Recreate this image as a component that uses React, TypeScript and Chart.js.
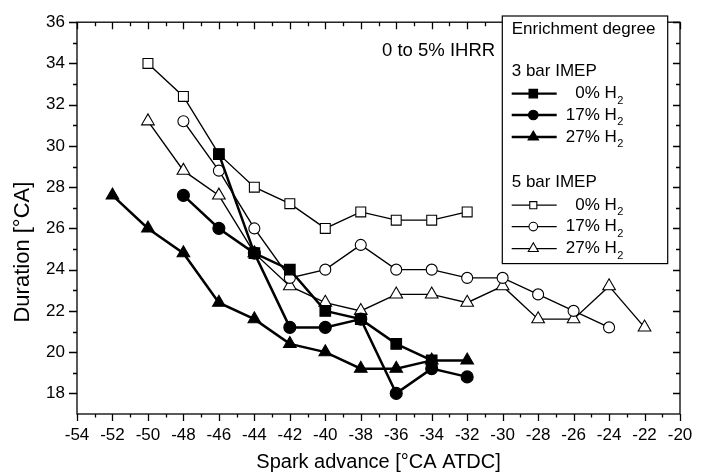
import React, { useEffect, useRef } from "react";
import { Chart, registerables } from "chart.js";

Chart.register(...registerables);

// ---- data ----
const xTicks = [-54, -52, -50, -48, -46, -44, -42, -40, -38, -36, -34, -32, -30, -28, -26, -24, -22, -20];
const yTicks = [18, 20, 22, 24, 26, 28, 30, 32, 34, 36];

const x3bar0 = [-46, -44, -42, -40, -38, -36, -34];
const y3bar0 = [29.6, 24.8, 24.0, 22.0, 21.6, 20.4, 19.6];
const x3bar17 = [-48, -46, -44, -42, -40, -38, -36, -34, -32];
const y3bar17 = [27.6, 26.0, 24.8, 21.2, 21.2, 21.6, 18.0, 19.2, 18.8];
const x3bar27 = [-52, -50, -48, -46, -44, -42, -40, -38, -36, -34, -32];
const y3bar27 = [27.6, 26.0, 24.8, 22.4, 21.6, 20.4, 20.0, 19.2, 19.2, 19.6, 19.6];

const x5bar0 = [-50, -48, -46, -44, -42, -40, -38, -36, -34, -32];
const y5bar0 = [34.0, 32.4, 29.6, 28.0, 27.2, 26.0, 26.8, 26.4, 26.4, 26.8];
const x5bar17 = [-48, -46, -44, -42, -40, -38, -36, -34, -32, -30, -28, -26, -24];
const y5bar17 = [31.2, 28.8, 26.0, 23.6, 24.0, 25.2, 24.0, 24.0, 23.6, 23.6, 22.8, 22.0, 21.2];
const x5bar27 = [-50, -48, -46, -44, -42, -40, -38, -36, -34, -32, -30, -28, -26, -24, -22];
const y5bar27 = [31.2, 28.8, 27.6, 24.8, 23.2, 22.4, 22.0, 22.8, 22.8, 22.4, 23.2, 21.6, 21.6, 23.2, 21.2];

const seriesLabels = ["0% H", "17% H", "27% H"];
const groupLabels = ["3 bar IMEP", "5 bar IMEP"];
const legendTitle = "Enrichment degree";
const annotationText = "0 to 5% IHRR";
const annotationPos = { x: -36.8, y: 34.6 };
const xTitle = "Spark advance [°CA ATDC]";
const yTitle = "Duration [°CA]";

const X_MIN = -54, X_MAX = -20, Y_MIN = 17, Y_MAX = 36;
const FONT = "'Liberation Sans', Arial, Helvetica, sans-serif";

const zip = (xs: number[], ys: number[]) => xs.map((x, i) => ({ x, y: ys[i] }));

type Style = { shape: string; filled: boolean; r: number; lw: number; lr: number };
const styles: Style[] = [
  { shape: "rect", filled: true, r: 7.5, lw: 2.5, lr: 6 },
  { shape: "circle", filled: true, r: 6, lw: 2.5, lr: 4.8 },
  { shape: "triangle", filled: true, r: 7.3, lw: 2.5, lr: 6 },
  { shape: "rect", filled: false, r: 7, lw: 1.4, lr: 5 },
  { shape: "circle", filled: false, r: 5.5, lw: 1.4, lr: 4.3 },
  { shape: "triangle", filled: false, r: 7.3, lw: 1.4, lr: 5.8 },
];

function drawMarker(ctx: CanvasRenderingContext2D, s: Style, x: number, y: number, r: number) {
  ctx.beginPath();
  if (s.shape === "rect") {
    const h = r * Math.SQRT1_2;
    ctx.rect(x - h, y - h, 2 * h, 2 * h);
  } else if (s.shape === "circle") {
    ctx.arc(x, y, r, 0, Math.PI * 2);
  } else {
    let rad = 0;
    ctx.moveTo(x + Math.sin(rad) * r, y - Math.cos(rad) * r);
    rad += (2 * Math.PI) / 3;
    ctx.lineTo(x + Math.sin(rad) * r, y - Math.cos(rad) * r);
    rad += (2 * Math.PI) / 3;
    ctx.lineTo(x + Math.sin(rad) * r, y - Math.cos(rad) * r);
    ctx.closePath();
  }
  ctx.fillStyle = s.filled ? "#000" : "#fff";
  ctx.fill();
  ctx.lineWidth = 1.1;
  ctx.strokeStyle = "#000";
  ctx.stroke();
}

const framePlugin = {
  id: "frameTicks",
  afterDatasetsDraw(chart: any) {
    const { ctx, chartArea: a, scales } = chart;
    const x = scales.x, y = scales.y;
    ctx.save();
    ctx.strokeStyle = "#000";
    ctx.lineWidth = 1.3;
    ctx.strokeRect(a.left, a.top, a.right - a.left, a.bottom - a.top);
    ctx.beginPath();
    for (let v = X_MIN; v <= X_MAX; v += 1) {
      const px = Math.round(x.getPixelForValue(v)) + 0.5;
      const major = v % 2 === 0;
      ctx.moveTo(px, a.bottom);
      ctx.lineTo(px, a.bottom + (major ? 7 : 3.5));
      ctx.moveTo(px, a.top);
      ctx.lineTo(px, a.top + (major ? 7 : 4));
    }
    for (let v = Y_MIN + 1; v <= Y_MAX; v += 1) {
      const py = Math.round(y.getPixelForValue(v)) + 0.5;
      const major = v % 2 === 0;
      ctx.moveTo(a.left, py);
      ctx.lineTo(a.left - (major ? 8 : 4), py);
      ctx.moveTo(a.right, py);
      ctx.lineTo(a.right - (major ? 7 : 4), py);
    }
    ctx.stroke();

    // annotation
    ctx.fillStyle = "#000";
    ctx.font = `18.5px ${FONT}`;
    ctx.textAlign = "left";
    ctx.textBaseline = "middle";
    ctx.fillText(annotationText, x.getPixelForValue(annotationPos.x), y.getPixelForValue(annotationPos.y));

    // y axis title
    ctx.save();
    ctx.translate(a.left - 54, (a.top + a.bottom) / 2 + 34);
    ctx.rotate(-Math.PI / 2);
    ctx.textAlign = "center";
    ctx.font = `22px ${FONT}`;
    ctx.fillText(yTitle, 0, 0);
    ctx.restore();
    ctx.restore();
  },
  afterDraw(chart: any) {
    const { ctx, chartArea: a } = chart;
    const bx = a.right - 177.7, by = a.top - 6.2, bw = 165.4, bh = 247.6;
    ctx.save();
    ctx.fillStyle = "#fff";
    ctx.fillRect(bx, by, bw, bh);
    ctx.strokeStyle = "#000";
    ctx.lineWidth = 1.2;
    ctx.strokeRect(bx, by, bw, bh);
    ctx.fillStyle = "#000";
    ctx.textBaseline = "middle";
    ctx.textAlign = "left";
    ctx.font = `17px ${FONT}`;
    const lx = bx + 9.4;
    ctx.fillText(legendTitle, lx, by + 13.3);
    const headerY = [by + 55, by + 166.6];
    const rowOff = [22.6, 44, 66];
    for (let g = 0; g < 2; g++) {
      ctx.font = `17px ${FONT}`;
      ctx.textAlign = "left";
      ctx.fillText(groupLabels[g], lx, headerY[g]);
      for (let k = 0; k < 3; k++) {
        const s = styles[g * 3 + k];
        const ry = headerY[g] + rowOff[k];
        ctx.beginPath();
        ctx.lineWidth = s.filled ? 2.3 : 1.2;
        ctx.strokeStyle = "#000";
        ctx.moveTo(lx, ry);
        ctx.lineTo(lx + 45, ry);
        ctx.stroke();
        drawMarker(ctx, s, lx + 21.6, ry, s.lr);
        ctx.fillStyle = "#000";
        ctx.font = `17px ${FONT}`;
        ctx.textAlign = "right";
        ctx.fillText(seriesLabels[k], bx + 114.5, ry);
        ctx.font = `11px ${FONT}`;
        ctx.textAlign = "left";
        ctx.fillText("2", bx + 115, ry + 7);
      }
    }
    ctx.restore();
  },
};

export default function App() {
  const ref = useRef<HTMLCanvasElement | null>(null);
  useEffect(() => {
    if (!ref.current) return;
    const xs = [x3bar0, x3bar17, x3bar27, x5bar0, x5bar17, x5bar27];
    const ys = [y3bar0, y3bar17, y3bar27, y5bar0, y5bar17, y5bar27];
    const names = ["3 bar 0% H2", "3 bar 17% H2", "3 bar 27% H2", "5 bar 0% H2", "5 bar 17% H2", "5 bar 27% H2"];
    const datasets = styles.map((s, i) => ({
      label: names[i],
      data: zip(xs[i], ys[i]),
      borderColor: "#000",
      backgroundColor: s.filled ? "#000" : "#fff",
      borderWidth: s.lw,
      pointStyle: s.shape,
      pointRadius: s.r,
      pointBackgroundColor: s.filled ? "#000" : "#fff",
      pointBorderColor: "#000",
      pointBorderWidth: 1.1,
      showLine: true,
      tension: 0,
    }));
    const chart = new Chart(ref.current, {
      type: "scatter",
      data: { datasets },
      options: {
        animation: false,
        responsive: false,
        devicePixelRatio: 1,
        layout: { padding: { top: 18, right: 25, left: 0, bottom: 0 } },
        plugins: { legend: { display: false }, tooltip: { enabled: false } },
        scales: {
          x: {
            type: "linear",
            min: X_MIN,
            max: X_MAX,
            grid: { display: false, drawTicks: false },
            border: { display: false },
            afterBuildTicks: (s: any) => { s.ticks = xTicks.map((v) => ({ value: v })); },
            afterFit: (s: any) => { s.height = 60; },
            ticks: { color: "#000", font: { family: FONT, size: 17 }, padding: 10.8, maxRotation: 0, autoSkip: false },
            title: { display: true, text: xTitle, color: "#000", font: { family: FONT, size: 20 }, padding: { top: 0, bottom: 0 } },
          },
          y: {
            type: "linear",
            min: Y_MIN,
            max: Y_MAX,
            grid: { display: false, drawTicks: false },
            border: { display: false },
            afterBuildTicks: (s: any) => { s.ticks = yTicks.map((v) => ({ value: v })); },
            afterFit: (s: any) => { s.width = 77; },
            ticks: { color: "#000", font: { family: FONT, size: 17 }, padding: 12, autoSkip: false },
          },
        },
      },
      plugins: [framePlugin],
    } as any);
    return () => chart.destroy();
  }, []);
  return (
    <div style={{ position: "fixed", left: 0, top: 0, width: 705, height: 474, background: "#fff" }}>
      <canvas ref={ref} width={705} height={474} />
    </div>
  );
}
